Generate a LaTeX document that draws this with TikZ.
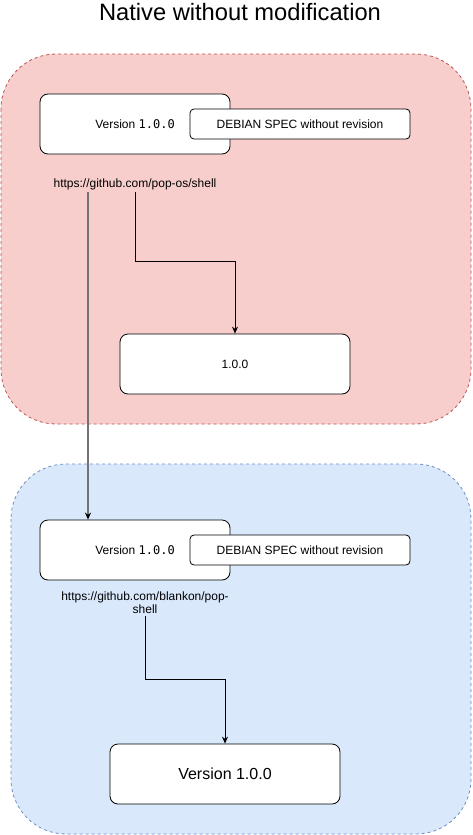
\documentclass[tikz,border=0pt]{standalone}
\usepackage{fontspec}
\setmainfont{Liberation Sans}
\newfontfamily\monofont{DejaVu Sans Mono}
\usetikzlibrary{arrows.meta,calc}
\definecolor{redfill}{HTML}{F8CECC}
\definecolor{redline}{HTML}{B85450}
\definecolor{bluefill}{HTML}{DAE8FC}
\definecolor{blueline}{HTML}{6C8EBF}
\tikzset{
  container/.style={draw, dashed, dash pattern=on 3pt off 3pt, rounded corners=55pt, line width=0.8pt},
  verbox/.style={draw=black, fill=white, rounded corners=8pt, minimum width=190pt, minimum height=60pt, inner sep=0pt, line width=0.8pt, font=\fontsize{12}{14}\selectfont},
  specbox/.style={draw=black, fill=white, rounded corners=4pt, minimum width=220pt, minimum height=30pt, inner sep=0pt, line width=0.8pt, font=\fontsize{12}{14}\selectfont},
  resbox/.style={draw=black, fill=white, rounded corners=8pt, minimum width=230pt, minimum height=60pt, inner sep=0pt, line width=0.8pt},
  urltext/.style={font=\fontsize{12}{13.5}\selectfont, inner sep=2pt, align=center},
  arr/.style={draw=black, line width=0.8pt, -{Stealth[length=7pt,width=6pt,black]}},
  longarr/.style={draw=black!55, line width=1.6pt, -{Stealth[length=7pt,width=6pt,black]}}
}
\begin{document}
\begin{tikzpicture}[x=1pt,y=-1pt]
\useasboundingbox (0,0) rectangle (472,835);
% title
\node (title) at (240,12) {\fontsize{23.7}{26}\selectfont Native without modification};
% containers
\path[container, fill=redfill, draw=redline] (1,54) rectangle (471,424);
\path[container, fill=bluefill, draw=blueline] (11,464) rectangle (471,834);
% top group
\node[verbox] (ver1) at (135,124) {Version {\monofont 1.0.0}};
\node[specbox] (spec1) at (300,124) {DEBIAN SPEC without revision};
\node[urltext] (url1) at (135,184) {https://github.com/pop-os/shell};
\node[resbox, font=\fontsize{12}{14}\selectfont] (res1) at (235,364) {1.0.0};
% bottom group
\node[verbox] (ver2) at (135,550) {Version {\monofont 1.0.0}};
\node[specbox] (spec2) at (300,550) {DEBIAN SPEC without revision};
\node[urltext] (url2) at (145,602.5) {https://github.com/blankon/pop-\\shell};
\node[resbox, font=\fontsize{16}{18}\selectfont] (res2) at (225,774) {Version 1.0.0};
% connectors
\draw[arr] (url1.south) -- ++(0,70) -| (res1.north);
\draw[arr] (url2.south) -- ++(0,64) -| (res2.north);
\draw[longarr] ([xshift=-47pt]url1.south) -- ([xshift=-47pt]url1.south |- ver2.north);
\end{tikzpicture}
\end{document}
